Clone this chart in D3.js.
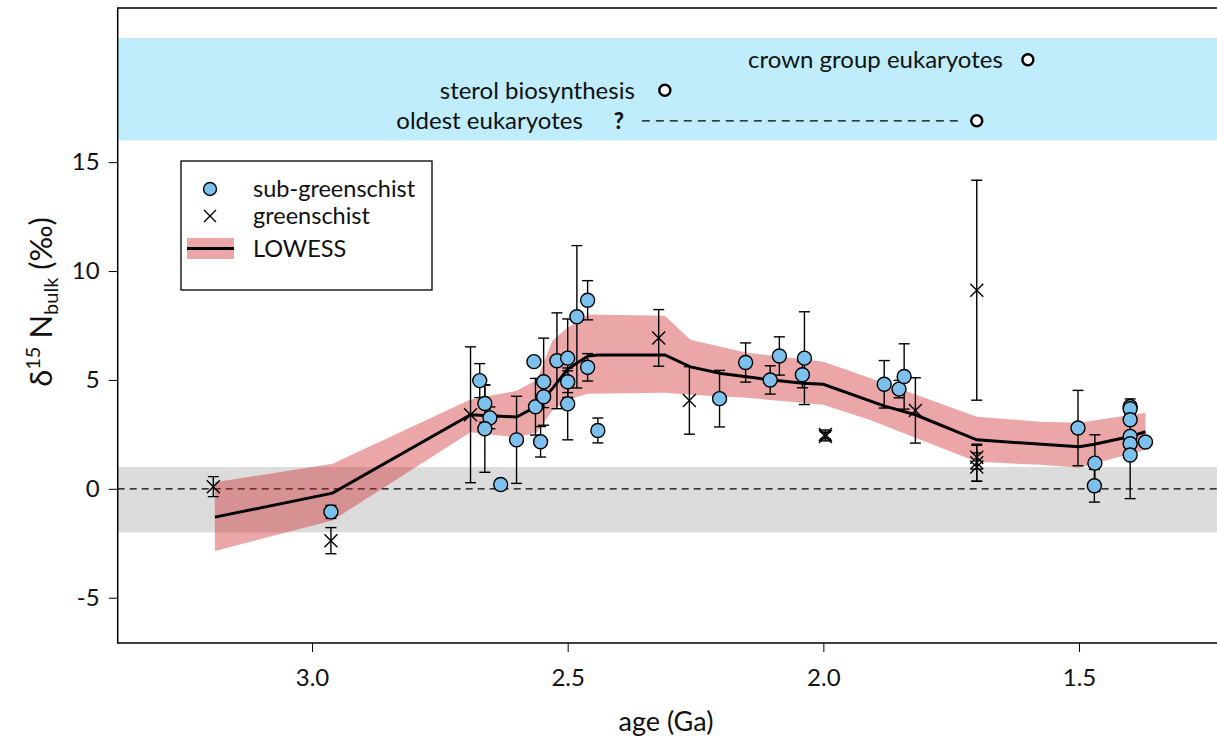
<!DOCTYPE html>
<html>
<head>
<meta charset="utf-8">
<script src="https://cdn.jsdelivr.net/npm/d3@7"></script>
<style>
  html, body { margin: 0; padding: 0; background: #fff; }
  svg { display: block; font-family: Lato, "Open Sans", sans-serif; }
</style>
</head>
<body>
<svg id="chart" width="1217" height="742"></svg>
<script>
// Sub-greenschist samples: age (Ga), d15N (permil), 1-sigma error (0 = no bar)
const subAge = [2.963, 2.672, 2.662, 2.652, 2.662, 2.631, 2.600, 2.566, 2.563, 2.553, 2.547, 2.547,
  2.521, 2.500, 2.500, 2.500, 2.482, 2.461, 2.461, 2.441,
  2.203, 2.152, 2.104, 2.086, 2.037, 2.041, 1.881, 1.852, 1.842,
  1.502, 1.469, 1.470, 1.400, 1.400, 1.400, 1.400, 1.400, 1.400, 1.370];
const subVal = [-1.06, 4.97, 3.92, 3.26, 2.76, 0.20, 2.25, 5.84, 3.77, 2.16, 4.23, 4.92,
  5.88, 6.00, 4.92, 3.90, 7.90, 8.66, 5.58, 2.68,
  4.14, 5.80, 5.00, 6.10, 6.00, 5.24, 4.80, 4.58, 5.16,
  2.79, 1.18, 0.14, 3.78, 3.68, 3.17, 2.41, 2.07, 1.55, 2.15];
const subErr = [0.30, 0.78, 0.86, 0.50, 2.00, 0, 2.00, 0, 1.30, 0.70, 0.50, 2.00,
  2.20, 1.80, 0.50, 1.65, 3.27, 0.90, 0.63, 0.57,
  1.30, 0.90, 0.65, 0.88, 2.13, 0.60, 1.09, 0.40, 1.50,
  1.73, 1.30, 0.75, 0.35, 0, 0, 0, 0, 2.00, 0];

// Greenschist samples
const grAge = [3.193, 2.963, 2.690, 2.322, 2.262, 1.996, 1.996, 1.820, 1.700, 1.700, 1.700, 1.700];
const grVal = [0.10, -2.38, 3.40, 6.93, 4.06, 2.50, 2.40, 3.60, 9.12, 1.45, 1.20, 1.00];
const grErr = [0.46, 0.60, 3.12, 1.30, 1.55, 0.20, 0.20, 1.50, 5.05, 0.55, 0.85, 0.65];

// LOWESS fit and its confidence envelope
const lowAge = [3.19, 2.96, 2.69, 2.60, 2.56, 2.53, 2.50, 2.46, 2.44, 2.31, 2.26, 2.20, 2.15, 2.10,
  2.04, 2.00, 1.88, 1.82, 1.70, 1.50, 1.47, 1.40, 1.37];
const lowVal = [-1.30, -0.20, 3.40, 3.30, 3.80, 4.60, 5.50, 6.10, 6.15, 6.15, 5.60, 5.30, 5.15, 5.00,
  4.85, 4.80, 3.80, 3.40, 2.25, 1.93, 2.05, 2.40, 2.62];
const bandAge = [3.19, 2.96, 2.69, 2.60, 2.56, 2.53, 2.50, 2.46, 2.31, 2.26, 2.15, 2.00, 1.91, 1.70, 1.576, 1.50, 1.37];
const bandLo  = [-2.85, -1.45, 2.60, 2.35, 2.60, 3.60, 4.10, 4.37, 4.41, 4.32, 4.18, 3.86, 3.17, 1.24, 1.10, 0.97, 1.79];
const bandHi  = [0.30, 1.15, 4.10, 4.50, 5.00, 6.80, 7.40, 8.00, 7.95, 6.85, 6.25, 5.84, 5.10, 3.31, 3.08, 3.03, 3.49];

// Axis ticks
const xTicks = [3.0, 2.5, 2.0, 1.5];
const yTicks = [-5, 0, 5, 10, 15];

// Shaded ranges
const modernRange = [-2, 1];
const eventRange = [16, 20.7];

// Biological milestones
const eventLabels = ["crown group eukaryotes", "sterol biosynthesis", "oldest eukaryotes"];
const eventAge = [1.60, 2.31, 1.70];
const eventVal = [19.7, 18.3, 16.9];
const oldestQueryAge = 2.40;
const oldestDashFrom = 2.355;
const oldestDashTo = 1.735;

const svg = d3.select("#chart");
const L = 117.7, R = 1222.2, T = 8, B = 643;
const x = d3.scaleLinear().domain([3.38, 1.22]).range([L, R]);
const y = d3.scaleLinear().domain([-7.08, 22.08]).range([B, T]);

const plot = svg.append("g");
plot.append("clipPath").attr("id", "clip").append("rect")
  .attr("x", L).attr("y", T).attr("width", R - L).attr("height", B - T);
const g = plot.append("g").attr("clip-path", "url(#clip)");

// Background bands
g.append("rect").attr("x", L).attr("width", R - L)
  .attr("y", y(eventRange[1])).attr("height", y(eventRange[0]) - y(eventRange[1]))
  .attr("fill", "#bfedfc");
g.append("rect").attr("x", L).attr("width", R - L)
  .attr("y", y(modernRange[1])).attr("height", y(modernRange[0]) - y(modernRange[1]))
  .attr("fill", "#dcdcdc");

// Zero reference
g.append("line").attr("x1", L).attr("x2", R).attr("y1", y(0)).attr("y2", y(0))
  .attr("stroke", "#000").attr("stroke-width", 1.3).attr("stroke-dasharray", "7,5");

// LOWESS envelope and curve
const band = bandAge.map((a, i) => ({ a, lo: bandLo[i], hi: bandHi[i] }));
g.append("path").datum(band)
  .attr("d", d3.area().x(d => x(d.a)).y0(d => y(d.lo)).y1(d => y(d.hi)))
  .attr("fill", "rgba(205,35,35,0.4)");
const low = lowAge.map((a, i) => ({ a, v: lowVal[i] }));
g.append("path").datum(low)
  .attr("d", d3.line().x(d => x(d.a)).y(d => y(d.v)))
  .attr("fill", "none").attr("stroke", "#000").attr("stroke-width", 3);

// Error bars
function errorBars(ages, vals, errs) {
  ages.forEach((a, i) => {
    const e = errs[i];
    if (!e) return;
    const cx = x(a), y1 = y(vals[i] + e), y2 = y(vals[i] - e);
    const eb = g.append("g").attr("stroke", "#000").attr("stroke-width", 1.4);
    eb.append("line").attr("x1", cx).attr("x2", cx).attr("y1", y1).attr("y2", y2);
    eb.append("line").attr("x1", cx - 5.5).attr("x2", cx + 5.5).attr("y1", y1).attr("y2", y1);
    eb.append("line").attr("x1", cx - 5.5).attr("x2", cx + 5.5).attr("y1", y2).attr("y2", y2);
  });
}
errorBars(grAge, grVal, grErr);
errorBars(subAge, subVal, subErr);

// Greenschist markers
function cross(sel, cx, cy, s) {
  sel.append("path")
    .attr("d", `M${cx - s},${cy - s}L${cx + s},${cy + s}M${cx - s},${cy + s}L${cx + s},${cy - s}`)
    .attr("stroke", "#000").attr("stroke-width", 1.4).attr("fill", "none");
}
grAge.forEach((a, i) => cross(g, x(a), y(grVal[i]), 6.5));

// Sub-greenschist markers
g.selectAll("circle.sub").data(subAge).join("circle").attr("class", "sub")
  .attr("cx", d => x(d)).attr("cy", (d, i) => y(subVal[i])).attr("r", 7)
  .attr("fill", "#7dc0ec").attr("stroke", "#000").attr("stroke-width", 1.4);

// Milestones
const evt = g.append("g").attr("font-size", 24).attr("fill", "#111");
eventLabels.forEach((t, i) => {
  evt.append("circle").attr("cx", x(eventAge[i])).attr("cy", y(eventVal[i])).attr("r", 5.5)
    .attr("fill", "#fff").attr("stroke", "#000").attr("stroke-width", 2.5);
});
evt.append("text").attr("x", x(eventAge[0]) - 25).attr("y", y(eventVal[0])).attr("dy", "0.35em")
  .attr("text-anchor", "end").text(eventLabels[0]);
evt.append("text").attr("x", x(eventAge[1]) - 30).attr("y", y(eventVal[1])).attr("dy", "0.35em")
  .attr("text-anchor", "end").text(eventLabels[1]);
evt.append("text").attr("x", x(oldestQueryAge) - 36).attr("y", y(eventVal[2])).attr("dy", "0.35em")
  .attr("text-anchor", "end").text(eventLabels[2]);
evt.append("text").attr("x", x(oldestQueryAge)).attr("y", y(eventVal[2])).attr("dy", "0.35em")
  .attr("text-anchor", "middle").attr("font-weight", "900").attr("font-size", 22).text("?");
evt.append("line").attr("x1", x(oldestDashFrom)).attr("x2", x(oldestDashTo))
  .attr("y1", y(eventVal[2])).attr("y2", y(eventVal[2]))
  .attr("stroke", "#000").attr("stroke-width", 1.3).attr("stroke-dasharray", "8,6");

// Frame
svg.append("rect").attr("x", L).attr("y", T).attr("width", R - L).attr("height", B - T)
  .attr("fill", "none").attr("stroke", "#000").attr("stroke-width", 1.5);

// Axes
const xAxis = svg.append("g").attr("transform", `translate(0,${B})`)
  .call(d3.axisBottom(x).tickValues(xTicks).tickFormat(d3.format(".1f")).tickSize(9).tickPadding(17));
const yAxis = svg.append("g").attr("transform", `translate(${L},0)`)
  .call(d3.axisLeft(y).tickValues(yTicks).tickFormat(d => d).tickSize(9).tickPadding(9));
[xAxis, yAxis].forEach(ax => {
  ax.select(".domain").remove();
  ax.selectAll(".tick line").attr("stroke", "#000").attr("stroke-width", 1);
  ax.selectAll(".tick text").attr("font-size", 24).attr("fill", "#111")
    .attr("font-family", "Lato, 'Open Sans', sans-serif");
});

svg.append("text").attr("x", 666).attr("y", 731).attr("text-anchor", "middle")
  .attr("font-size", 27).attr("fill", "#111").text("age (Ga)");

const yt = svg.append("text").attr("transform", "translate(52,302) rotate(-90)")
  .attr("text-anchor", "middle").attr("font-size", 31).attr("fill", "#111");
yt.append("tspan").text("δ");
yt.append("tspan").attr("font-size", 20).attr("baseline-shift", "60%").text("15");
yt.append("tspan").text(" N");
yt.append("tspan").attr("font-size", 20).attr("baseline-shift", "-30%").text("bulk");
yt.append("tspan").text(" (‰)");

// Legend
const lg = svg.append("g");
lg.append("rect").attr("x", 181).attr("y", 161).attr("width", 251).attr("height", 129)
  .attr("fill", "#fff").attr("stroke", "#000").attr("stroke-width", 1.3);
lg.append("circle").attr("cx", 210).attr("cy", 189).attr("r", 6.5)
  .attr("fill", "#7dc0ec").attr("stroke", "#000").attr("stroke-width", 1.4);
cross(lg, 210, 216, 6);
lg.append("rect").attr("x", 187).attr("y", 238).attr("width", 47).attr("height", 21)
  .attr("fill", "rgba(205,35,35,0.4)");
lg.append("line").attr("x1", 187).attr("x2", 234).attr("y1", 248.5).attr("y2", 248.5)
  .attr("stroke", "#000").attr("stroke-width", 3);
const legTxt = ["sub-greenschist", "greenschist", "LOWESS"];
[189, 216, 249].forEach((yy, i) => {
  lg.append("text").attr("x", 253).attr("y", yy).attr("dy", "0.35em")
    .attr("font-size", 23.5).attr("fill", "#111").text(legTxt[i]);
});
</script>
</body>
</html>
